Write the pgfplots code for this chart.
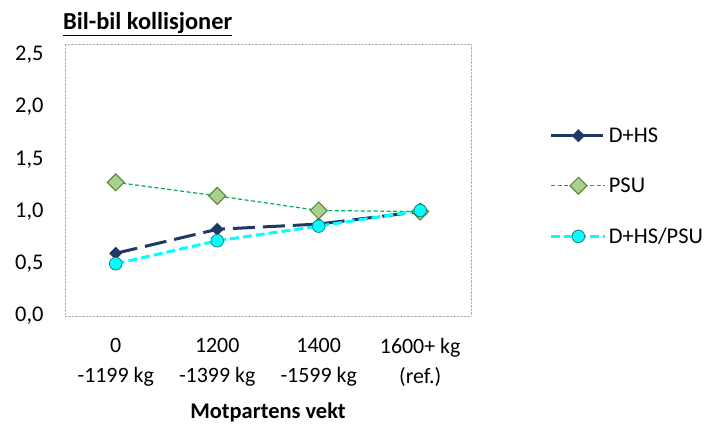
\documentclass[border=0pt]{standalone}
\usepackage{pgfplots}
\pgfplotsset{compat=1.18}
\usepackage{fontspec}
\setmainfont{Carlito}
\definecolor{navy}{HTML}{1F3864}
\definecolor{psuline}{HTML}{00B050}
\definecolor{psufill}{HTML}{A9D18E}
\definecolor{psuedge}{HTML}{548235}
\definecolor{cyanline}{HTML}{00FFFF}
\definecolor{cyanedge}{HTML}{1F7F7F}
\begin{document}
\begin{tikzpicture}[x=1bp,y=1bp]
\path (0,0) rectangle (705,418);
\node[anchor=west,inner sep=0pt,font=\fontsize{24.5}{28}\selectfont\bfseries] at (63,394) {\underline{Bil-bil kollisjoner}};
\begin{axis}[
  at={(65bp,102bp)}, anchor=south west,
  scale only axis, width=406bp, height=272bp,
  xmin=-0.5, xmax=3.5, ymin=0, ymax=2.605,
  xtick={0,1,2,3},
  xticklabels={{0\\-1199 kg},{1200\\-1399 kg},{1400\\-1599 kg},{1600+ kg\\(ref.)}},
  xticklabel style={align=center, font=\fontsize{22}{30}\selectfont, yshift=-19bp},
  ytick={0,0.5,1,1.5,2,2.5},
  yticklabel style={font=\fontsize{22.5}{26}\selectfont, xshift=-18bp},
  /pgf/number format/.cd, fixed, fixed zerofill, precision=1, use comma, assume math mode=true,
  /pgfplots/.cd,
  major tick length=0pt,
  axis line style={draw=gray!60, densely dotted},
  xlabel={\textbf{Motpartens vekt}},
  xlabel style={font=\fontsize{22.5}{26}\selectfont, yshift=-9bp},
  legend image code/.code={\draw[mark repeat=2,mark phase=2,#1] plot coordinates {(0bp,0bp) (27bp,0bp) (54bp,0bp)};},
  legend style={at={(1.194,0.70)}, anchor=north west, draw=none, fill=none,
    font=\fontsize{22.5}{26}\selectfont, row sep=30bp, inner sep=0pt,
    nodes={inner sep=2bp}},
  legend cell align=left,
]
\addplot[navy, line width=3bp, dash pattern=on 22bp off 8bp, mark=square*, mark size=4.3bp,
  mark options={rotate=45, solid, fill=navy, draw=navy, line width=0.5bp}]
  coordinates {(0,0.60) (1,0.83) (2,0.88) (3,1.00)};
\addlegendentry{D+HS}
\addplot[psuline, line width=1.2bp, dash pattern=on 4bp off 2.5bp, mark=square*, mark size=6bp,
  mark options={rotate=45, solid, fill=psufill, draw=psuedge, line width=1bp}]
  coordinates {(0,1.28) (1,1.15) (2,1.01) (3,1.00)};
\addlegendentry{PSU}
\addplot[cyanline, line width=3bp, dash pattern=on 9bp off 4bp, mark=*, mark size=6.3bp,
  mark options={solid, fill=cyanline, draw=cyanedge, line width=0.8bp}]
  coordinates {(0,0.50) (1,0.72) (2,0.86) (3,1.01)};
\addlegendentry{D+HS/PSU}
\end{axis}
\end{tikzpicture}
\end{document}
